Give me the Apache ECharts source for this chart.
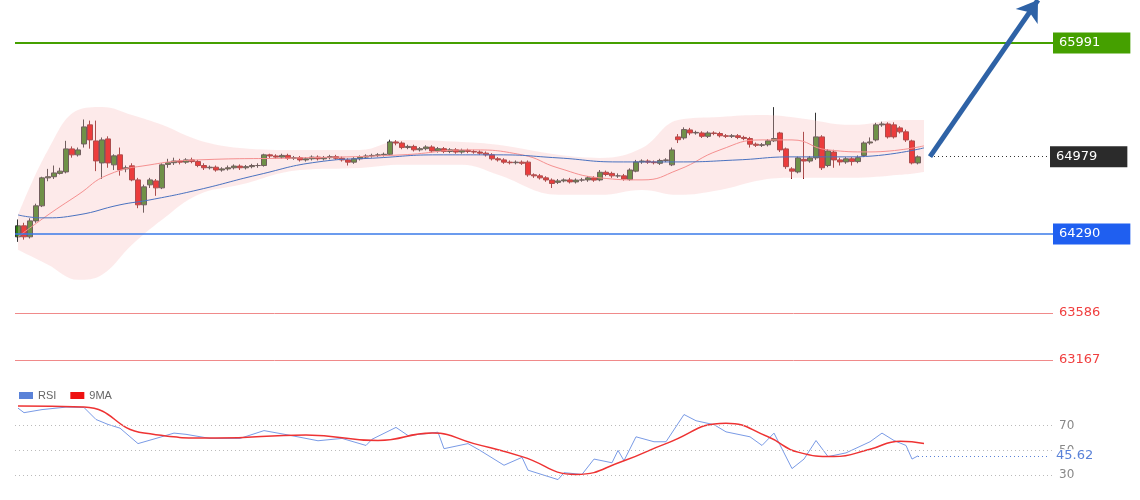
<!DOCTYPE html>
<html><head><meta charset="utf-8">
<script src="https://cdn.jsdelivr.net/npm/echarts@6/dist/echarts.min.js"></script>
<style>html,body{margin:0;padding:0;background:#fff}#c{width:1140px;height:500px}</style>
</head><body><div id="c"></div>
<script>
// candles: [open, close, low, high]
const candles = [
[64265,64363,64220,64420],[64363,64265,64240,64390],[64265,64407,64250,64430],[64407,64541,64390,64560],[64541,64790,64530,64800],
[64790,64800,64760,64870],[64800,64834,64780,64900],[64830,64850,64820,64880],[64843,65048,64830,65120],[65048,64995,64970,65070],
[64995,65039,64980,65060],[65092,65244,65060,65310],[65262,65128,65050,65300],[65119,64941,64850,65300],[64923,65128,64780,65150],
[65137,64923,64880,65160],[64906,64986,64860,65000],[64995,64861,64810,65060],[64870,64880,64840,64900],[64897,64772,64760,64920],
[64772,64550,64520,64790],[64550,64710,64480,64730],[64728,64772,64700,64790],[64763,64701,64630,64780],[64701,64906,64690,64920],
[64910,64925,64880,64960],[64925,64940,64905,64970],[64940,64930,64910,64960],[64930,64950,64915,64965],[64950,64935,64920,64970],
[64935,64900,64885,64950],[64900,64880,64860,64920],[64880,64885,64865,64900],[64885,64860,64845,64900],[64860,64870,64845,64885],
[64870,64880,64855,64900],[64880,64895,64865,64910],[64895,64880,64860,64910],[64880,64890,64865,64905],[64890,64900,64875,64915],
[64900,64900,64880,64920],[64900,64995,64890,65005],[64995,64985,64965,65005],[64985,64975,64960,65000],[64975,64990,64960,65005],
[64990,64965,64950,65005],[64965,64970,64950,64985],[64970,64950,64935,64985],[64950,64960,64935,64975],[64960,64975,64945,64990],
[64975,64960,64945,64990],[64960,64970,64945,64985],[64970,64980,64955,64995],[64980,64965,64950,64995],[64965,64950,64935,64980],
[64950,64930,64900,64965],[64930,64960,64915,64975],[64960,64975,64945,64990],[64975,64985,64960,65000],[64985,64990,64970,65005],
[64990,64995,64975,65010],[64995,65000,64980,65015],[65000,65110,64990,65130],[65110,65100,65080,65125],[65100,65060,65045,65115],
[65060,65070,65045,65085],[65070,65040,65025,65085],[65040,65050,65025,65065],[65050,65065,65035,65080],[65065,65030,65015,65080],
[65030,65050,65015,65065],[65050,65025,65010,65065],[65025,65040,65010,65055],[65040,65020,65005,65055],[65020,65035,65005,65050],
[65035,65025,65010,65050],[65025,65020,65005,65040],[65020,65010,64995,65035],[65010,64995,64980,65025],[64995,64960,64945,65010],
[64960,64950,64935,64975],[64950,64930,64915,64965],[64930,64925,64910,64945],[64925,64930,64910,64945],[64930,64920,64905,64945],
[64930,64817,64800,64945],[64817,64808,64790,64830],[64808,64790,64775,64825],[64790,64772,64755,64805],[64770,64740,64700,64785],
[64750,64763,64735,64780],[64763,64772,64750,64785],[64772,64754,64740,64790],[64754,64770,64740,64785],[64770,64772,64755,64790],
[64772,64790,64755,64805],[64790,64770,64755,64805],[64772,64840,64760,64860],[64840,64820,64805,64855],[64830,64808,64790,64845],
[64808,64808,64790,64830],[64808,64780,64765,64825],[64775,64860,64765,64875],[64850,64932,64840,64950],[64932,64940,64915,64955],
[64940,64930,64915,64955],[64932,64925,64910,64945],[64920,64945,64905,64960],[64945,64950,64930,64965],[64906,65039,64895,65060],
[65155,65130,65100,65180],[65146,65220,65130,65240],[65217,65190,65170,65235],[65190,65195,65175,65210],[65190,65160,65145,65205],
[65160,65190,65145,65205],[65190,65185,65170,65205],[65185,65165,65150,65200],[65165,65160,65145,65180],[65160,65165,65145,65180],
[65165,65150,65135,65180],[65150,65140,65125,65165],[65140,65090,65060,65155],[65090,65080,65065,65105],[65080,65085,65065,65100],
[65085,65120,65070,65135],[65120,65140,65110,65420],[65190,65039,65020,65200],[65048,64890,64870,65060],[64870,64850,64780,64885],
[64843,64968,64830,64980],[64955,64940,64780,65200],[64940,64968,64925,64985],[64968,65155,64950,65370],[65155,64880,64860,65170],
[64900,65030,64885,65045],[65020,64950,64880,65040],[64950,64932,64900,64970],[64932,64960,64915,64975],[64960,64935,64900,64975],
[64935,64970,64920,64990],[64990,65101,64975,65115],[65101,65110,65085,65150],[65128,65262,65115,65280],[65262,65270,65245,65290],
[65270,65155,65140,65285],[65262,65155,65140,65285],[65235,65200,65185,65250],[65200,65128,65110,65220],[65119,64923,64910,65130],
[64923,64977,64910,64990]
];
const bandUpper = [[0,64460],[5,65039],[10,65395],[14,65422],[19,65350],[24,65262],[30,65128],[37,65057],[47,65039],[57,65039],[64,65128],[74,65110],[80,65084],[90,64995],[97,64968],[104,65057],[110,65306],[117,65333],[124,65350],[130,65324],[139,65262],[147,65306],[151,65306]];
const bandLower = [[0,64149],[5,64016],[10,63882],[14,63927],[19,64194],[24,64416],[30,64639],[37,64728],[47,64861],[57,64879],[64,64906],[74,64906],[80,64817],[90,64639],[97,64639],[104,64683],[110,64639],[117,64683],[124,64772],[130,64790],[139,64790],[147,64817],[151,64843]];
const ma20 = [[0,64265],[5,64460],[10,64639],[15,64817],[22,64906],[30,64950],[47,64968],[64,64995],[75,65039],[84,64995],[90,64879],[97,64790],[104,64772],[110,64861],[117,65039],[124,65128],[129,65128],[135,65039],[142,65021],[151,65075]];
const maLong = [[0,64460],[4,64434],[10,64460],[17,64550],[22,64594],[30,64683],[40,64817],[50,64932],[60,64968],[70,64995],[80,64995],[90,64968],[100,64932],[110,64932],[120,64950],[129,64977],[139,64977],[151,65057]];
const rsi = [[0,84.2],[1,80.5],[4,83],[8,85],[11,84.7],[13,75],[15,71],[17,68],[20,55.5],[23,59.7],[26,64],[28,63],[32,59.7],[37,59.7],[41,66],[45,62.5],[50,57.8],[54,59.7],[58,54],[59,59],[63,68.6],[65,62],[70,64.7],[71,51.4],[75,55.5],[77,50],[81,38],[84,44.4],[85,34],[90,26.4],[91,32],[94,30.6],[96,43],[99,40],[100,50],[101,41.7],[103,61],[106,57],[108,57],[111,79],[113,74],[116,70.8],[118,65],[122,61],[124,54],[126,64],[129,35.3],[131,43],[133,58],[135,45],[138,48],[142,57],[144,64],[146,58],[148,54],[149,43],[150,45.62]];
const rsiMA = [[0,86],[11,85],[21,64],[33,60],[48,62.5],[60,58],[69,64],[76,55.5],[84,45],[93,30.6],[101,41.7],[108,55.5],[118,72],[125,61],[130,48.6],[136,45],[142,51],[147,57.5],[151,55.5]];
const levels = {resistance2: 65991, last: 64979, support1: 64290, support2: 63586, support3: 63167};
const rsiLast = 45.62;
const arrowTarget = [170, 66374];
const rsiTicks = [30, 50, 70];

const cats = Array.from({length: 173}, (_, i) => String(i));
const bandDiff = bandUpper.map((p, k) => [p[0], p[1] - bandLower[k][1]]);

function lvl(v, color, width, type, bg) {
  return {
    yAxis: v,
    lineStyle: {color: color, width: width, type: type},
    label: bg ? {position: 'end', formatter: String(v), color: '#fff', backgroundColor: bg, padding: [4, 30, 4, 6], fontSize: 13, fontFamily: 'DejaVu Sans', distance: 0}
              : {position: 'end', formatter: String(v), color: '#f04040', fontSize: 13, fontFamily: 'DejaVu Sans', distance: 6}
  };
}

const chart = echarts.init(document.getElementById('c'));
chart.setOption({
  animation: false,
  backgroundColor: '#fff',
  legend: {
    left: 14, top: 385, itemWidth: 14, itemHeight: 7, itemGap: 14,
    textStyle: {color: '#666', fontSize: 11, fontFamily: 'Liberation Sans'},
    data: [{name: 'RSI', icon: 'rect', itemStyle: {color: '#5a82d8'}}, {name: '9MA', icon: 'rect', itemStyle: {color: '#ee1111'}}]
  },
  grid: [
    {left: 15, width: 1038, top: 0, height: 380},
    {left: 15, width: 1038, top: 395, height: 94}
  ],
  xAxis: [
    {type: 'category', data: cats, gridIndex: 0, show: false},
    {type: 'category', data: cats, gridIndex: 1, show: false}
  ],
  yAxis: [
    {type: 'value', gridIndex: 0, min: 62990, max: 66374, show: false, splitLine: {show: false}},
    {type: 'value', gridIndex: 1, min: 18.8, max: 94.8, show: false, splitLine: {show: false}}
  ],
  series: [
    {type: 'line', name: 'bandLow', data: bandLower, stack: 'band', smooth: 0.4, symbol: 'none', lineStyle: {width: 0}, silent: true},
    {type: 'line', name: 'bandFill', data: bandDiff, stack: 'band', smooth: 0.4, symbol: 'none', lineStyle: {width: 0}, areaStyle: {color: 'rgba(250,190,190,0.45)'}, silent: true},
    {type: 'line', data: ma20, symbol: 'none', smooth: true, lineStyle: {color: '#f59090', width: 1}},
    {type: 'line', data: maLong, symbol: 'none', smooth: true, lineStyle: {color: '#4a72c0', width: 1}},
    {
      type: 'candlestick', data: candles, barWidth: 5,
      itemStyle: {color: '#2f7d12', color0: '#e60000', borderColor: '#333', borderColor0: '#8a1a1a', borderWidth: 1},
      markLine: {
        silent: true, symbol: 'none', animation: false,
        data: [
          lvl(levels.resistance2, '#45a000', 2, 'solid', '#45a000'),
          lvl(levels.support1, '#3a7ae8', 1.5, 'solid', '#1f5ff0'),
          lvl(levels.support2, '#f08a8a', 1, 'solid', null),
          lvl(levels.support3, '#f08a8a', 1, 'solid', null),
          [{coord: ['152', levels.last], lineStyle: {color: '#333', width: 1, type: [1, 3]},
            label: {position: 'end', formatter: String(levels.last), color: '#fff', backgroundColor: '#2b2b2b', padding: [4, 30, 4, 6], fontSize: 13, fontFamily: 'DejaVu Sans', distance: 0}},
           {coord: ['172', levels.last]}],
          [{coord: ['152', levels.last], symbol: 'none', lineStyle: {color: '#2e62a6', width: 5, type: 'solid'}, label: {show: false}},
           {coord: [String(arrowTarget[0]), arrowTarget[1]], symbol: 'arrow', symbolSize: 20}]
        ]
      }
    },
    {
      type: 'line', name: 'RSI', xAxisIndex: 1, yAxisIndex: 1, data: rsi, symbol: 'none', lineStyle: {color: '#7a9be6', width: 1},
      markLine: {
        silent: true, symbol: 'none',
        data: rsiTicks.map(v => ({yAxis: v, lineStyle: {color: '#bbb', type: [1, 3], width: 1}, label: {position: 'end', formatter: String(v), color: '#888', fontSize: 12, fontFamily: 'DejaVu Sans', distance: 6}})).concat([
          [{coord: ['150', rsiLast], lineStyle: {color: '#5a82d8', type: [1, 3], width: 1}, label: {position: 'end', formatter: String(rsiLast), color: '#5a82d8', fontSize: 13, fontFamily: 'DejaVu Sans', backgroundColor: '#fff', distance: 6}}, {coord: ['172', rsiLast]}]
        ])
      }
    },
    {type: 'line', name: '9MA', xAxisIndex: 1, yAxisIndex: 1, data: rsiMA, symbol: 'none', smooth: true, lineStyle: {color: '#ee3333', width: 1.5}}
  ]
});
</script></body></html>
